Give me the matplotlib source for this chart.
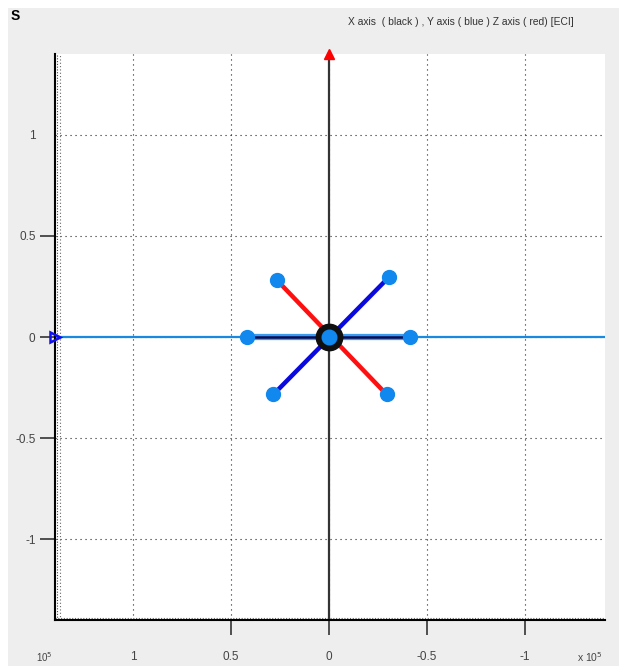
import matplotlib
matplotlib.use("Agg")
import matplotlib.pyplot as plt
from matplotlib.patches import Rectangle

plt.rcParams['font.family'] = ['Liberation Sans', 'DejaVu Sans']

# Body-frame axes projected onto the view plane (scaled units, x 10^5)
x_axis_x = [0.42, -0.413]
x_axis_y = [0.0, 0.0]
y_axis_x = [0.284, -0.306]
y_axis_y = [-0.284, 0.296]
z_axis_x = [0.267, -0.294]
z_axis_y = [0.282, -0.284]
origin = (0.0, 0.0)

x_ticks = [1, 0.5, 0, -0.5, -1]
x_tick_labels = ['1', '0.5', '0', '-0.5', '-1']
y_ticks = [1, 0.5, 0, -0.5, -1]
y_tick_labels = ['1', '0.5', '0', '-0.5', '-1']
x_limits = (1.4, -1.41)
y_limits = (-1.4, 1.4)

W, H = 619, 666
fig = plt.figure(figsize=(W / 100, H / 100), dpi=100)
fig.patch.set_facecolor('white')
fig.patches.append(Rectangle((8 / W, 0), 1, 1 - 8 / H, transform=fig.transFigure,
                             facecolor='#eeeeee', edgecolor='none', zorder=-10))

ax = fig.add_axes([55 / W, 1 - 620 / H, 550 / W, 566 / H])
ax.set_facecolor('white')
ax.set_xlim(*x_limits)
ax.set_ylim(*y_limits)

for side in ('top', 'right'):
    ax.spines[side].set_visible(False)
for side in ('left', 'bottom'):
    ax.spines[side].set_color('black')
    ax.spines[side].set_linewidth(1.5)

ax.set_xticks(x_ticks)
ax.set_xticklabels(x_tick_labels)
ax.set_yticks(y_ticks)
ax.set_yticklabels(y_tick_labels)
ax.tick_params(axis='x', direction='out', length=11, width=1.2, color='#333333',
               labelsize=8.5, labelcolor='#444444', pad=11)
ax.tick_params(axis='y', direction='out', length=11, width=1.2, color='#333333',
               labelsize=8.5, labelcolor='#444444', pad=3)
ax.xaxis.get_major_ticks()[0].tick1line.set_visible(False)
ax.yaxis.get_major_ticks()[0].tick1line.set_visible(False)

ax.grid(True, color='#222222', linestyle=(0, (1, 3.5)), linewidth=0.8)
ax.set_axisbelow(True)

# dense dotted texture along the frame edges
ax.axvline(x_limits[0] - 0.012, color='#444444', linestyle=(0, (1, 1.5)), lw=0.8, zorder=1)
ax.axvline(x_limits[0] - 0.025, color='#666666', linestyle=(0, (1, 2)), lw=0.8, zorder=1)
ax.axhline(y_limits[0] + 0.012, color='#666666', linestyle=(0, (1, 1.5)), lw=0.8, zorder=1)

# reference axes through the origin
ax.axhline(0, color='#1a8ae0', lw=1.6, zorder=2)
ax.axvline(0, color='#333333', lw=1.6, zorder=2)
ax.plot([0], [y_limits[1]], marker='^', color='red', markersize=6.5, clip_on=False, zorder=6)
ax.plot([x_limits[0]], [0], marker='>', markerfacecolor='none', markeredgecolor='#1010ee',
        markeredgewidth=1.8, markersize=7, clip_on=False, zorder=6)

# body axes
ax.plot(x_axis_x, x_axis_y, color='#3a9cf0', lw=4.5, solid_capstyle='butt', zorder=3)
ax.plot(x_axis_x, x_axis_y, color='#0a0a50', lw=1.8, solid_capstyle='butt', zorder=3)
ax.plot(y_axis_x, y_axis_y, color='#0a0adf', lw=3.2, zorder=3)
ax.plot(z_axis_x, z_axis_y, color='#ff1010', lw=3.2, zorder=3)

ax.plot([origin[0]], [origin[1]], marker='o', color='#101010', markersize=19, zorder=4)
ax.plot([origin[0]], [origin[1]], marker='o', color='#1188ee', markersize=10.5, zorder=5)
ends_x = x_axis_x + y_axis_x + z_axis_x
ends_y = x_axis_y + y_axis_y + z_axis_y
ax.plot(ends_x, ends_y, linestyle='none', marker='o', color='#1188ee', markersize=10, zorder=5)

fig.text(11 / W, 1 - 16 / H, 'S', fontsize=10, fontweight='bold', color='black',
         va='center', ha='left')
fig.text(348 / W, 1 - 22 / H, 'X axis  ( black ) , Y axis ( blue ) Z axis ( red) [ECI]',
         fontsize=7.4, color='#333333', va='center', ha='left')
fig.text(577 / W, 1 - 657 / H, r'x 10$^{5}$', fontsize=7.5, color='#444444',
         va='center', ha='left')
fig.text(36 / W, 1 - 657 / H, r'10$^{5}$', fontsize=7, color='#444444',
         va='center', ha='left')

fig.savefig('out.png', dpi=100)
